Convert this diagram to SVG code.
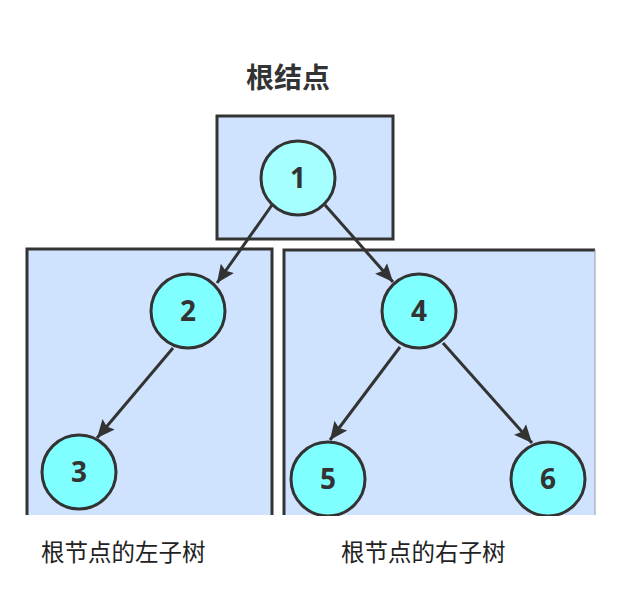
<svg xmlns="http://www.w3.org/2000/svg" width="634" height="603" viewBox="0 0 634 603">
<style>
.box{fill:#cfe3ff;stroke:none}
.edge{fill:none;stroke:#333;stroke-width:3}
.node{fill:#7fffff;stroke:#333;stroke-width:3}
.root{fill:#a6ffff;stroke:#333;stroke-width:3}
.num{font-family:"Open Sans","DejaVu Sans",sans-serif;font-weight:bold;font-size:28px;fill:#333;text-anchor:middle}
.cap{font-family:"Noto Sans CJK SC",sans-serif;font-size:23.5px;fill:#222}
.title{font-family:"Noto Sans CJK SC",sans-serif;font-weight:bold;font-size:28px;fill:#333;text-anchor:middle}
.link{fill:none;stroke:#333;stroke-width:3}
</style>
<defs>
<marker id="arr" markerUnits="userSpaceOnUse" markerWidth="20" markerHeight="18" refX="18" refY="9" orient="auto">
<path d="M0,1 L18,9 L0,17 L3,9 Z" fill="#333"/>
</marker>
</defs>
<rect width="634" height="603" fill="#fff"/>
<text class="title" x="288" y="88">根结点</text>
<g id="box-root">
<rect x="217" y="116" width="176" height="123" fill="#cfe3ff" stroke="#333" stroke-width="3"/>
</g>
<g id="box-left">
<rect class="box" x="27" y="249" width="245" height="266"/>
<path class="edge" d="M27,515 V249 H272 V515"/>
</g>
<g id="box-right">
<rect class="box" x="284" y="250" width="311" height="265"/>
<path class="edge" d="M284,515 V250 H595"/>
<path d="M595,250 V515" stroke="#999" stroke-width="1" fill="none"/>
</g>
<g id="connectors">
<line class="link" x1="272" y1="205" x2="217" y2="283" marker-end="url(#arr)"/>
<line class="link" x1="325" y1="205" x2="393" y2="282" marker-end="url(#arr)"/>
<line class="link" x1="173" y1="348" x2="97" y2="438" marker-end="url(#arr)"/>
<line class="link" x1="400" y1="347" x2="330" y2="440" marker-end="url(#arr)"/>
<line class="link" x1="443" y1="343" x2="532" y2="443" marker-end="url(#arr)"/>
</g>
<g id="n1"><circle class="root" cx="298" cy="178" r="37"/><text class="num" x="298" y="188">1</text></g>
<g id="n2"><circle class="node" cx="188" cy="311" r="37"/><text class="num" x="188" y="321">2</text></g>
<g id="n3"><circle class="node" cx="79" cy="472" r="37"/><text class="num" x="79" y="482">3</text></g>
<g id="n4"><circle class="node" cx="419" cy="311" r="37"/><text class="num" x="419" y="321">4</text></g>
<g id="n5"><circle class="node" cx="328" cy="479" r="37"/><text class="num" x="328" y="489">5</text></g>
<g id="n6"><circle class="node" cx="548" cy="479" r="37"/><text class="num" x="548" y="489">6</text></g>
<rect x="0" y="516" width="634" height="20" fill="#fff"/>
<text class="cap" x="41" y="561">根节点的左子树</text>
<text class="cap" x="341" y="561">根节点的右子树</text>
</svg>
